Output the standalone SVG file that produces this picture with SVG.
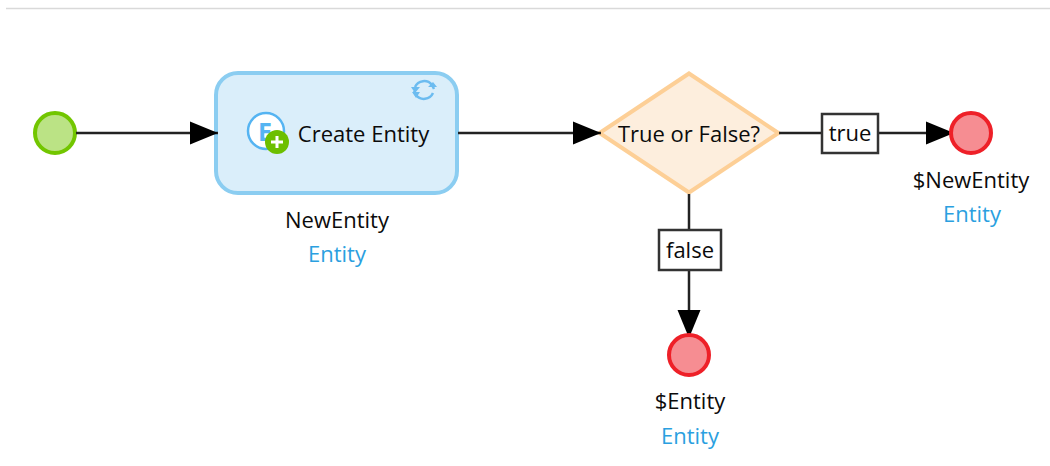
<svg xmlns="http://www.w3.org/2000/svg" width="1050" height="466" viewBox="0 0 1050 466">
<defs>
<style>
text{font-family:"Open Sans","Noto Sans","Liberation Sans",sans-serif;font-size:22px;fill:#0b0b0b;text-anchor:middle}
.link{fill:#2b9fe0}
.conn{fill:none;stroke:#222;stroke-width:2.5}
.start{fill:#bbe385;stroke:#72c600;stroke-width:4}
.end{fill:#f68d92;stroke:#ee2028;stroke-width:4}
.lab{fill:#fff;stroke:#333;stroke-width:2.5}
</style>
<marker id="arrow" markerUnits="userSpaceOnUse" markerWidth="28" markerHeight="24" refX="28" refY="12" orient="auto"><path d="M0,0.5 L28,12 L0,23.5 Z" fill="#000"/></marker>
</defs>
<rect width="1050" height="466" fill="#fff"/>
<line x1="6" y1="8.500" x2="1050" y2="8.500" stroke="#d9d9d9" stroke-width="1.500"/>
<g id="start"><circle class="start" cx="55" cy="133" r="20"/></g>
<g id="create-entity">
<rect x="216" y="73" width="241" height="120" rx="22" fill="#daeefa" stroke="#8bcdf1" stroke-width="4"/>
<circle cx="266" cy="131" r="18" fill="#fff" stroke="#55b4f2" stroke-width="2.500"/>
<text x="265" y="141" style="fill:#55b4f2;font-weight:700;font-size:25px">E</text>
<circle cx="277" cy="142" r="12" fill="#6cbf00"/>
<path d="M271 142H283M277 136V148" stroke="#fff" stroke-width="3" fill="none"/>
<g fill="none" stroke="#6cbcf0" stroke-width="2.500">
<path d="M415 87A10 10 0 0 1 432 85L434 89"/>
<path d="M433 93A10 10 0 0 1 416 95L414 91"/>
</g>
<path d="M411 87H420L415 93ZM428 87H437L433 82Z" fill="#6cbcf0"/>
<path d="M412 92H420L416 98Z" fill="#6cbcf0"/>
<text x="363.500" y="142">Create Entity</text>
<text x="337" y="228">NewEntity</text>
<text x="337" y="262" class="link">Entity</text>
</g>
<g id="decision">
<polygon points="689,73.500 778.500,133 689,192.500 599.500,133" fill="#fdeedd" stroke="#fdcf96" stroke-width="4"/>
<text x="689" y="142">True or False?</text>
</g>
<g id="connectors">
<line class="conn" x1="76" y1="133" x2="218" y2="133" marker-end="url(#arrow)"/>
<line class="conn" x1="458" y1="133" x2="601" y2="133" marker-end="url(#arrow)"/>
<line class="conn" x1="779" y1="133" x2="954" y2="133" marker-end="url(#arrow)"/>
<line class="conn" x1="689" y1="194" x2="689" y2="338" marker-end="url(#arrow)"/>
</g>
<g id="label-true"><rect class="lab" x="822" y="114" width="56" height="39"/><text x="850" y="141">true</text></g>
<g id="label-false"><rect class="lab" x="659" y="230" width="62" height="40"/><text x="690" y="258">false</text></g>
<g id="end-new-entity">
<circle class="end" cx="971" cy="133" r="20"/>
<text x="971" y="188">$NewEntity</text>
<text x="972" y="222" class="link">Entity</text>
</g>
<g id="end-entity">
<circle class="end" cx="689" cy="355" r="20"/>
<text x="690" y="409">$Entity</text>
<text x="690" y="444" class="link">Entity</text>
</g>
</svg>
